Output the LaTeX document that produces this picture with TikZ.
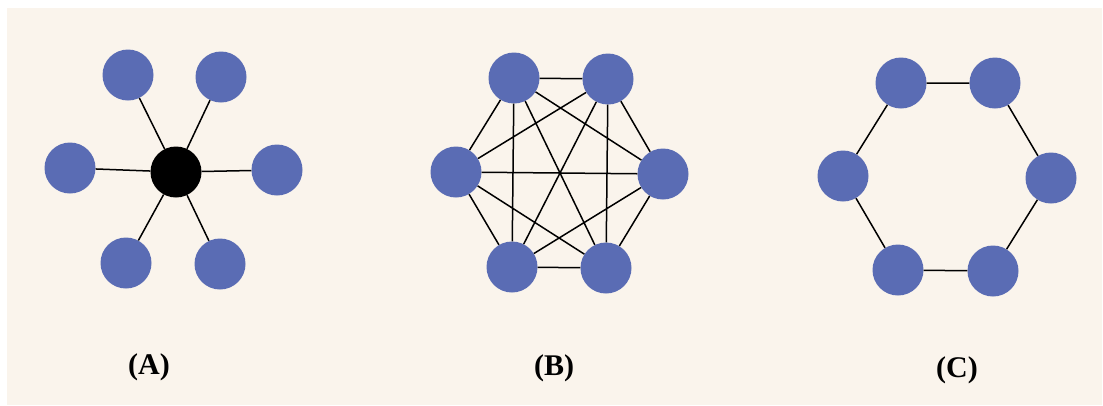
\documentclass[tikz,border=0pt]{standalone}
\usepackage{fontspec}
\setmainfont{Liberation Serif}
\definecolor{paper}{RGB}{250,244,236}
\definecolor{peer}{RGB}{90,108,180}
\tikzset{
  peer/.style={circle,fill=peer,minimum size=51pt,inner sep=0pt},
  hub/.style={circle,fill=black,minimum size=51pt,inner sep=0pt},
  link/.style={black,line width=1.5pt},
  caption/.style={font=\fontsize{30}{34}\selectfont\bfseries}
}
\begin{document}
\begin{tikzpicture}[x=1pt,y=-1pt]
  % Page and paper
  \fill[white] (0,0) rectangle (1103,405);
  \fill[paper] (7,8) rectangle (1102,405);
  \useasboundingbox (0,0) rectangle (1103,405);

  % (A) star around a central hub
  \node[hub] (hA) at (176,172) {};
  \node[peer] (a1) at (128,75) {};
  \node[peer] (a2) at (221,77) {};
  \node[peer] (a3) at (70,168) {};
  \node[peer] (a4) at (277,170) {};
  \node[peer] (a5) at (126,263) {};
  \node[peer] (a6) at (220,264) {};
  \draw[link] (hA) -- (a1) (hA) -- (a2) (hA) -- (a3)
    (hA) -- (a4) (hA) -- (a5) (hA) -- (a6);

  % (B) every node linked to every other
  \node[peer] (b1) at (514,78) {};
  \node[peer] (b2) at (608,79) {};
  \node[peer] (b3) at (456,172) {};
  \node[peer] (b4) at (663,174) {};
  \node[peer] (b5) at (512,267) {};
  \node[peer] (b6) at (606,268) {};
  \draw[link] (b1) -- (b2) (b1) -- (b3) (b1) -- (b4) (b1) -- (b5) (b1) -- (b6)
    (b2) -- (b3) (b2) -- (b4) (b2) -- (b5) (b2) -- (b6)
    (b3) -- (b4) (b3) -- (b5) (b3) -- (b6)
    (b4) -- (b5) (b4) -- (b6)
    (b5) -- (b6);

  % (C) ring
  \node[peer] (c1) at (901,83) {};
  \node[peer] (c2) at (995,83) {};
  \node[peer] (c3) at (843,176) {};
  \node[peer] (c4) at (1051,178) {};
  \node[peer] (c5) at (898,270) {};
  \node[peer] (c6) at (993,271) {};
  \draw[link] (c1) -- (c2) -- (c4) -- (c6) -- (c5) -- (c3) -- (c1);

  % Captions
  \node[caption] (capA) at (149,367) {(A)};
  \node[caption] (capB) at (554,368) {(B)};
  \node[caption] (capC) at (957,370) {(C)};
\end{tikzpicture}
\end{document}
